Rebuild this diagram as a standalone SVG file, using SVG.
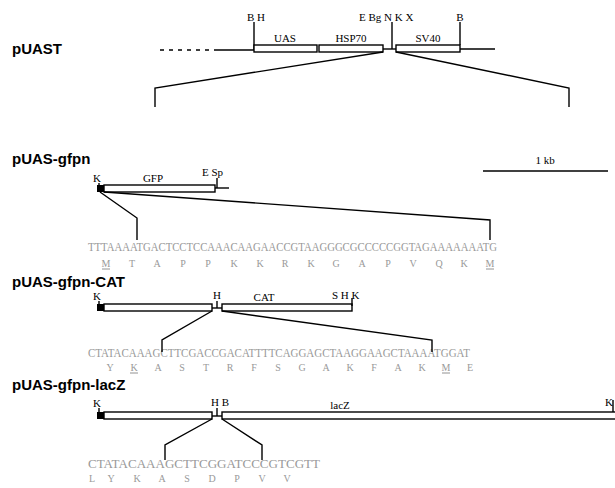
<svg xmlns="http://www.w3.org/2000/svg" width="615" height="488" viewBox="0 0 615 488">
<style>
.t{font-family:"Liberation Sans",Arial,sans-serif;font-weight:bold;font-size:15px;fill:#000}
.l{font-family:"Liberation Serif","Times New Roman",serif;font-size:11px;fill:#000}
.s{font-family:"Liberation Serif","Times New Roman",serif;font-size:11.5px;fill:#999}
.a{font-family:"Liberation Serif","Times New Roman",serif;font-size:10px;fill:#999;text-anchor:middle}
.bx{fill:#fff;stroke:#000;stroke-width:1.4}
.ln{fill:none;stroke:#000;stroke-width:1.4}
.u{stroke:#777;stroke-width:0.8}
</style>
<rect width="615" height="488" fill="#fff"/>
<g id="pUAST">
<text class="t" x="12" y="54">pUAST</text>
<line class="ln" x1="160" y1="50" x2="215" y2="50" stroke-dasharray="4,5"/>
<line class="ln" x1="215" y1="50" x2="254" y2="50"/>
<line class="ln" x1="254" y1="22" x2="254" y2="50"/>
<text class="l" x="247" y="21">B H</text>
<rect class="bx" x="254" y="45" width="63" height="7"/>
<text class="l" x="285" y="42" text-anchor="middle">UAS</text>
<rect class="bx" x="319" y="45" width="64" height="7"/>
<text class="l" x="351" y="42" text-anchor="middle">HSP70</text>
<line class="ln" x1="383" y1="49" x2="396" y2="49"/>
<line class="ln" x1="392" y1="22" x2="392" y2="49"/>
<text class="l" x="359" y="21">E Bg N K X</text>
<rect class="bx" x="396" y="45" width="64" height="7"/>
<text class="l" x="428" y="42" text-anchor="middle">SV40</text>
<line class="ln" x1="460" y1="22" x2="460" y2="45"/>
<text class="l" x="460" y="21" text-anchor="middle">B</text>
<line class="ln" x1="460" y1="49" x2="495" y2="49"/>
</g>
<g id="pUAS-gfpn">
<text class="t" x="12" y="164">pUAS-gfpn</text>
<text class="l" x="97" y="182" text-anchor="middle">K</text>
<line class="ln" x1="99" y1="183" x2="99" y2="189"/>
<rect x="97" y="185" width="8" height="7" fill="#000"/>
<rect class="bx" x="104" y="185" width="111" height="7"/>
<text class="l" x="153" y="182" text-anchor="middle">GFP</text>
<line class="ln" x1="217" y1="178" x2="217" y2="188"/>
<line class="ln" x1="215" y1="188" x2="229" y2="188"/>
<text class="l" x="202" y="176">E Sp</text>
<line class="ln" x1="483" y1="171" x2="608" y2="171"/>
<text class="l" x="545" y="164" text-anchor="middle">1 kb</text>
<text class="s" x="88" y="251" textLength="409" lengthAdjust="spacingAndGlyphs">TTTAAAATGACTCCTCCAAACAAGAACCGTAAGGGCGCCCCCGGTAGAAAAAAATG</text>
<g class="a">
<text x="106" y="267">M</text><text x="132" y="267">T</text><text x="157" y="267">A</text><text x="183" y="267">P</text>
<text x="208" y="267">P</text><text x="234" y="267">K</text><text x="260" y="267">K</text><text x="285" y="267">R</text>
<text x="311" y="267">K</text><text x="336" y="267">G</text><text x="362" y="267">A</text><text x="388" y="267">P</text>
<text x="413" y="267">V</text><text x="439" y="267">Q</text><text x="464" y="267">K</text><text x="490" y="267">M</text>
</g>
<line class="u" x1="102" y1="269" x2="110" y2="269"/>
<line class="u" x1="486" y1="269" x2="494" y2="269"/>
</g>
<g id="pUAS-gfpn-CAT">
<text class="t" x="12" y="287">pUAS-gfpn-CAT</text>
<text class="l" x="97" y="300" text-anchor="middle">K</text>
<line class="ln" x1="99" y1="301" x2="99" y2="307"/>
<rect x="97" y="304" width="8" height="7" fill="#000"/>
<rect class="bx" x="104" y="304" width="108" height="7"/>
<line class="ln" x1="212" y1="308" x2="222" y2="308"/>
<line class="ln" x1="217" y1="301" x2="217" y2="308"/>
<text class="l" x="217" y="299" text-anchor="middle">H</text>
<rect class="bx" x="222" y="304" width="130" height="7"/>
<text class="l" x="264" y="301" text-anchor="middle">CAT</text>
<line class="ln" x1="352" y1="298" x2="352" y2="306"/>
<text class="l" x="332" y="299">S H K</text>
<text class="s" x="88" y="357" textLength="382" lengthAdjust="spacingAndGlyphs">CTATACAAAGCTTCGACCGACATTTTCAGGAGCTAAGGAAGCTAAAATGGAT</text>
<g class="a">
<text x="110" y="371">Y</text><text x="134" y="371">K</text><text x="158" y="371">A</text><text x="182" y="371">S</text>
<text x="206" y="371">T</text><text x="230" y="371">R</text><text x="254" y="371">F</text><text x="278" y="371">S</text>
<text x="302" y="371">G</text><text x="326" y="371">A</text><text x="350" y="371">K</text><text x="374" y="371">F</text>
<text x="398" y="371">A</text><text x="422" y="371">K</text><text x="446" y="371">M</text><text x="470" y="371">E</text>
</g>
<line class="u" x1="130" y1="373" x2="138" y2="373"/>
<line class="u" x1="442" y1="373" x2="450" y2="373"/>
</g>
<g id="pUAS-gfpn-lacZ">
<text class="t" x="12" y="390">pUAS-gfpn-lacZ</text>
<text class="l" x="97" y="407" text-anchor="middle">K</text>
<line class="ln" x1="99" y1="408" x2="99" y2="414"/>
<rect x="97" y="412" width="8" height="7" fill="#000"/>
<rect class="bx" x="104" y="412" width="108" height="7"/>
<line class="ln" x1="212" y1="416" x2="222" y2="416"/>
<line class="ln" x1="217" y1="408" x2="217" y2="416"/>
<text class="l" x="211" y="406">H B</text>
<rect class="bx" x="222" y="412" width="400" height="7"/>
<text class="l" x="340" y="409" text-anchor="middle">lacZ</text>
<line class="ln" x1="613" y1="400" x2="613" y2="412"/>
<text class="l" x="605" y="406">K</text>
<text class="s" x="88" y="468" textLength="232" lengthAdjust="spacingAndGlyphs">CTATACAAAGCTTCGGATCCCGTCGTT</text>
<g class="a">
<text x="92" y="482">L</text><text x="111" y="482">Y</text><text x="137" y="482">K</text><text x="162" y="482">A</text>
<text x="187" y="482">S</text><text x="212" y="482">D</text><text x="237" y="482">P</text><text x="262" y="482">V</text>
<text x="287" y="482">V</text>
</g>
</g>
<g id="connectors" class="ln">
<polyline points="383,52 155,88 155,107"/>
<polyline points="396,52 569,88 569,107"/>
<polyline points="100,192 137,218 137,240"/>
<polyline points="104,192 490,220 490,240"/>
<polyline points="212,311 162,340 162,352"/>
<polyline points="222,311 432,340 432,352"/>
<polyline points="212,419 165,445 165,460"/>
<polyline points="222,419 262,445 262,460"/>
</g>
</svg>
